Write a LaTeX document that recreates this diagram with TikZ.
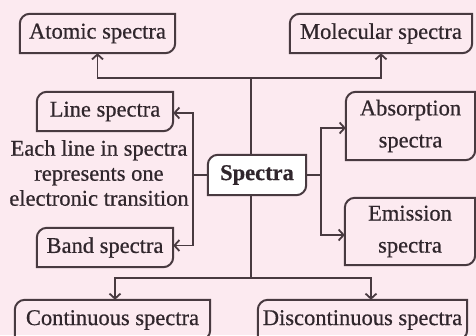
\documentclass[tikz,border=0pt]{standalone}
\usepackage{fontspec}
\setmainfont{Liberation Serif}[FakeBold=0.6]
\usetikzlibrary{calc,arrows.meta}
\definecolor{bgpink}{RGB}{252,234,240}
\definecolor{lncol}{RGB}{72,58,64}
\definecolor{txcol}{RGB}{48,38,44}
\pgfdeclarelayer{back}
\pgfdeclarelayer{shapes}
\pgfsetlayers{back,shapes,main}
\tikzset{
  boxline/.style={draw=lncol,line width=2pt},
  leafbox/.style={inner sep=0pt,text=txcol,font=\fontsize{22.5}{25}\selectfont,align=center},
  tallbox/.style={leafbox,font=\fontsize{22.5}{32}\selectfont},
  conn/.style={draw=lncol,line width=1.8pt},
  arr/.style={conn,-{Straight Barb[length=5pt,width=11pt,line width=1.8pt]}},
}
\newcommand\leafshape[2][]{%
  \begin{pgfonlayer}{shapes}
  \draw[boxline,#1] (#2.south west) -- ([yshift=-10pt]#2.north west)
     arc[start angle=180,end angle=90,radius=10pt] -- (#2.north east)
     -- ([yshift=10pt]#2.south east)
     arc[start angle=0,end angle=-90,radius=10pt] -- cycle;
  \end{pgfonlayer}}
\begin{document}
\begin{tikzpicture}[x=1pt,y=-1pt]
\begin{pgfonlayer}{back}
\fill[bgpink] (0,0) rectangle (476,335);
\end{pgfonlayer}
\useasboundingbox (0,0) rectangle (476,335);
\clip (0,0) rectangle (476,335);

\node[leafbox,minimum width=155pt,minimum height=39pt] (atomic) at (97.5,33.5) {Atomic spectra};
\node[leafbox,minimum width=182pt,minimum height=39pt] (molecular) at (381,33.5) {Molecular spectra};
\node[leafbox,minimum width=136pt,minimum height=39pt] (line) at (105,111.5) {Line spectra};
\node[tallbox,minimum width=129pt,minimum height=68pt] (absorption) at (410.5,126) {Absorption\\spectra};
\node[leafbox,minimum width=98pt,minimum height=40pt,font=\fontsize{22.5}{25}\selectfont\bfseries] (spectra) at (257,175) {Spectra};
\node[tallbox,minimum width=130pt,minimum height=67pt] (emission) at (410,231.5) {Emission\\spectra};
\node[leafbox,minimum width=136pt,minimum height=39pt] (band) at (105,247.5) {Band spectra};
\node[leafbox,minimum width=195pt,minimum height=40pt] (continuous) at (112.5,320) {Continuous spectra};
\node[leafbox,minimum width=209pt,minimum height=40pt] (discont) at (362.5,320) {Discontinuous spectra};
\node[leafbox] (note) at (99,173) {Each line in spectra\\represents one\\electronic transition};

\leafshape{atomic}
\leafshape{molecular}
\leafshape{line}
\leafshape{absorption}
\leafshape[fill=white]{spectra}
\leafshape{emission}
\leafshape{band}
\leafshape{continuous}
\leafshape{discont}

\coordinate (T) at (251,78);
\coordinate (B) at (251,278);
\coordinate (L) at (193,175);
\coordinate (R) at (321,175);

\draw[conn] (T) -- (spectra.north -| T);
\draw[conn] (spectra.south -| B) -- (B);
\draw[arr] (T) -| (atomic);
\draw[arr] (T) -| (molecular);
\draw[arr] (B) -| ([xshift=2.5pt]continuous.north);
\draw[arr] (B) -| ([xshift=8.5pt]discont.north);
\draw[conn] (spectra.west) -- (L);
\draw[arr] (L) |- ([yshift=-1.5pt]line.east);
\draw[arr] (L) |- ([yshift=2pt]band.east);
\draw[conn] (spectra.east) -- (R);
\draw[arr] (R) |- ([yshift=-2pt]absorption.west);
\draw[arr] (R) |- ([yshift=-3.5pt]emission.west);
\end{tikzpicture}
\end{document}
